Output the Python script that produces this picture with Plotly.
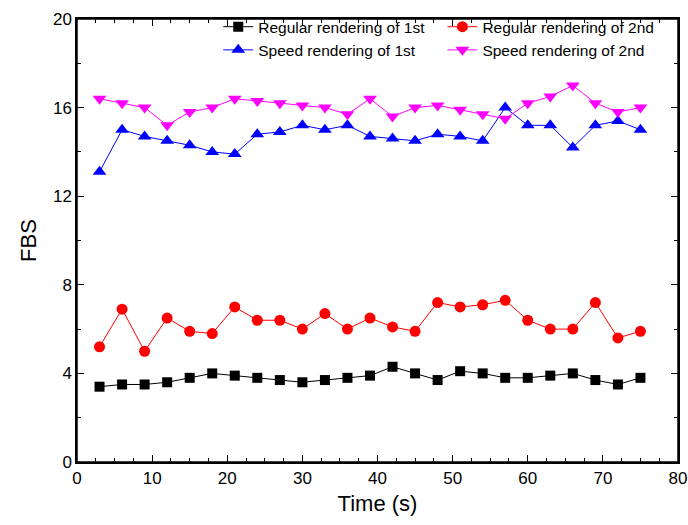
import plotly.graph_objects as go

time_s = [3, 6, 9, 12, 15, 18, 21, 24, 27, 30, 33, 36, 39, 42, 45, 48, 51, 54, 57, 60, 63, 66, 69, 72, 75]
regular_1st = [3.4, 3.5, 3.5, 3.6, 3.8, 4.0, 3.9, 3.8, 3.7, 3.6, 3.7, 3.8, 3.9, 4.3, 4.0, 3.7, 4.1, 4.0, 3.8, 3.8, 3.9, 4.0, 3.7, 3.5, 3.8]
regular_2nd = [5.2, 6.9, 5.0, 6.5, 5.9, 5.8, 7.0, 6.4, 6.4, 6.0, 6.7, 6.0, 6.5, 6.1, 5.9, 7.2, 7.0, 7.1, 7.3, 6.4, 6.0, 6.0, 7.2, 5.6, 5.9]
speed_1st = [13.1, 15.0, 14.7, 14.5, 14.3, 14.0, 13.9, 14.8, 14.9, 15.2, 15.0, 15.2, 14.7, 14.6, 14.5, 14.8, 14.7, 14.5, 16.0, 15.2, 15.2, 14.2, 15.2, 15.4, 15.0]
speed_2nd = [16.4, 16.2, 16.0, 15.2, 15.8, 16.0, 16.4, 16.3, 16.2, 16.1, 16.0, 15.7, 16.4, 15.6, 16.0, 16.1, 15.9, 15.7, 15.5, 16.2, 16.5, 17.0, 16.2, 15.8, 16.0]

series_names = ["Regular rendering of 1st", "Regular rendering of 2nd",
                "Speed rendering of 1st", "Speed rendering of 2nd"]
x_ticks = [0, 10, 20, 30, 40, 50, 60, 70, 80]
y_ticks = [0, 4, 8, 12, 16, 20]

FONT = "Liberation Sans, Arial, sans-serif"

fig = go.Figure()
fig.add_trace(go.Scatter(x=time_s, y=regular_1st, name=series_names[0], mode="lines+markers",
                         line=dict(color="black", width=1),
                         marker=dict(symbol="square", size=10, color="black"), legend="legend"))
fig.add_trace(go.Scatter(x=time_s, y=regular_2nd, name=series_names[1], mode="lines+markers",
                         line=dict(color="red", width=1),
                         marker=dict(symbol="circle", size=11, color="red"), legend="legend2"))
fig.add_trace(go.Scatter(x=time_s, y=speed_1st, name=series_names[2], mode="lines+markers",
                         line=dict(color="blue", width=1),
                         marker=dict(symbol="triangle-up", size=12, color="blue"), legend="legend"))
fig.add_trace(go.Scatter(x=time_s, y=speed_2nd, name=series_names[3], mode="lines+markers",
                         line=dict(color="magenta", width=1),
                         marker=dict(symbol="triangle-down", size=12, color="magenta"), legend="legend2"))

axis_common = dict(showline=True, linecolor="black", linewidth=1.5, mirror="allticks",
                   ticks="inside", ticklen=7, tickwidth=1.2, tickcolor="black",
                   showgrid=False, zeroline=False, automargin=False,
                   ticklabeloverflow="allow",
                   tickfont=dict(family=FONT, size=17, color="black"))

fig.update_xaxes(range=[0, 80], tickvals=x_ticks, ticktext=[str(v) for v in x_ticks],
                 minor=dict(ticks="inside", ticklen=4, dtick=2.5, tickcolor="black", tickwidth=1, showgrid=False),
                 title=dict(text="Time (s)", font=dict(family=FONT, size=22, color="black"), standoff=8),
                 **axis_common)
fig.update_yaxes(range=[0, 20], tickvals=y_ticks, ticktext=[str(v) for v in y_ticks],
                 minor=dict(ticks="inside", ticklen=4, dtick=2, tickcolor="black", tickwidth=1, showgrid=False),
                 title=dict(text="FBS", font=dict(family=FONT, size=22, color="black"), standoff=10),
                 **axis_common)

legend_common = dict(font=dict(family=FONT, size=15.5, color="black"), bgcolor="rgba(0,0,0,0)",
                     borderwidth=0, orientation="v", xanchor="left", yanchor="top",
                     tracegroupgap=0, itemsizing="trace")

fig.update_layout(
    width=688, height=525,
    margin=dict(l=77, r=10, t=14, b=63),
    plot_bgcolor="white", paper_bgcolor="white",
    font=dict(family=FONT, color="black"),
    legend=dict(x=0.235, y=1.02, **legend_common),
    legend2=dict(x=0.608, y=1.02, **legend_common),
    shapes=[dict(type="rect", xref="paper", yref="paper", x0=0, x1=1, y0=0, y1=1,
                 line=dict(color="black", width=1.5), fillcolor="rgba(0,0,0,0)", layer="above")],
)

# remove the default 8px page margin so the figure sits at the window's top-left corner
fig.write_html("out.html", config={"displayModeBar": False},
               post_script="document.body.style.margin='0';")
